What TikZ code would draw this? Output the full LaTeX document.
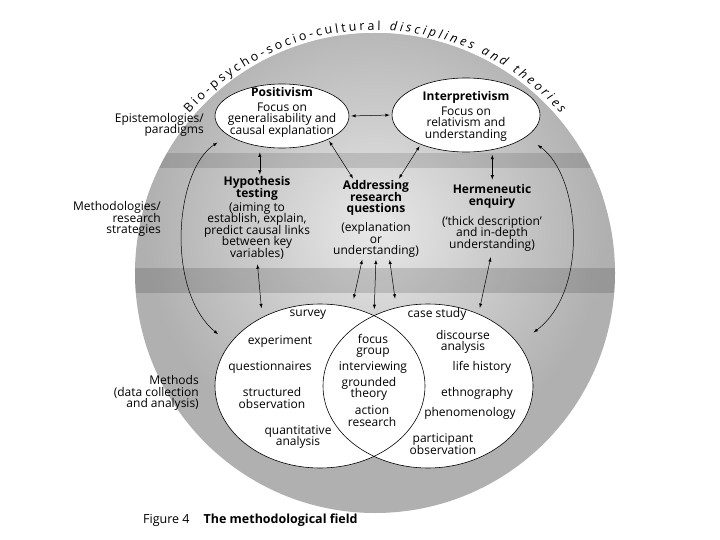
\documentclass[tikz,border=0pt]{standalone}
\usepackage{fontspec}
\setmainfont{Open Sans}
\usetikzlibrary{shapes.geometric,decorations.text}
\setlength{\lineskiplimit}{-8pt}

\begin{document}
\begin{tikzpicture}[x=1pt,y=-1pt,line cap=round,>=latex,
  every node/.style={inner sep=0pt},
  txt/.style={align=center,font=\fontsize{12}{11.5}\selectfont},
  side/.style={align=right,anchor=east,font=\fontsize{12}{11.5}\selectfont},
  paraell/.style={ellipse,draw,fill=white,line width=0.6pt},
  methell/.style={ellipse,draw,line width=0.6pt,minimum width=210,minimum height=164},
  link/.style={<->,line width=0.5pt,shorten <=2pt,shorten >=2pt}]
  \useasboundingbox (0,0) rectangle (720,540);
  \fill[white] (0,0) rectangle (720,540);

  \fill[gray!62] (375,273) circle [radius=240];
  \begin{scope}
    \clip (375,273) circle [radius=240];
    \shade[inner color=gray!18,outer color=gray!62] (375,230) circle [radius=230];
    \fill[black,opacity=0.12] (100,153) rectangle (650,168);
    \fill[black,opacity=0.14] (100,268) rectangle (650,293);
  \end{scope}
  \path[decorate,decoration={text along path,text align={fit to path},
      text={|\fontsize{12.5}{12.5}\selectfont|Bio-psycho-socio-cultural |\fontsize{12.5}{12.5}\selectfont\itshape|disciplines and theories}}]
    (375,278) ++(-138.5:248) arc [start angle=-138.5,end angle=-41.5,radius=248];

  \node[paraell,minimum width=134,minimum height=64] (pos) at (282,116) {};
  \node[paraell,minimum width=148,minimum height=74] (int) at (466,115) {};
  \fill[white] (320,386) ellipse [x radius=105,y radius=82];
  \fill[white] (428,386) ellipse [x radius=105,y radius=82];
  \node[methell] (quan) at (320,386) {};
  \node[methell] (qual) at (428,386) {};
  \coordinate (meet) at (374,317);

  \node[txt] (posT) at (282,112) {\textbf{Positivism}\\[3.5pt]Focus on\\generalisability and\\causal explanation};
  \node[txt] (intT) at (466,116) {\textbf{Interpretivism}\\[3.5pt]Focus on\\relativism and\\understanding};
  \node[txt] (hypT) at (257,218) {\textbf{Hypothesis}\\\textbf{testing}\\[2.5pt](aiming to\\establish, explain,\\predict causal links\\between key\\variables)};
  \node[txt] (addT) at (376,198) {\textbf{Addressing}\\\textbf{research}\\\textbf{questions}};
  \node[txt] (addS) at (376,240) {(explanation\\or\\understanding)};
  \node[txt] (hermT) at (492,218) {\textbf{Hermeneutic}\\\textbf{enquiry}\\[8.5pt](‘thick description’\\and in-depth\\understanding)};

  \node[side] (epi) at (204,125) {Epistemologies/\\paradigms};
  \node[side] (strat) at (161,219) {Methodologies/\\research\\strategies};
  \node[side] (meth) at (199,393) {Methods\\(data collection\\and analysis)};

  \foreach \x/\y/\nm/\lab in {308/315/surv/survey, 280/342/expe/experiment,
      270/368/ques/questionnaires, 272/398/stru/{structured\\observation},
      298/437/quaa/{quantitative\\analysis}, 373/346/focu/{focus\\group},
      373/368/intv/interviewing, 369/389/grou/{grounded\\theory},
      372/416/acti/{action\\research}, 437/314/case/case study,
      463/342/disc/{discourse\\analysis}, 482/367/life/life history,
      477/393/ethn/ethnography, 470/413/phen/phenomenology,
      443/444/part/{participant\\observation}}
    \node[txt] (\nm) at (\x,\y) {\lab};

  \draw[link] (pos.east) -- (int.west);
  \draw[link,shorten <=6pt] (pos.234) -- (pos.234 |- hypT.north);
  \draw[link,shorten <=5pt,shorten >=5pt] (int.307) -- (int.307 |- hermT.north);
  \draw[link] (pos.-27) -- (addT.141);
  \draw[link] (int.213) -- (addT.39);
  \draw[link,shorten >=9pt] (addS.233) -- (quan.68);
  \draw[link,shorten >=8pt] (addS.south) -- (meet);
  \draw[link,shorten >=9pt] (addS.307) -- (qual.112);
  \draw[link,shorten <=5pt,shorten >=9pt] (hypT.south) -- (quan.130);
  \draw[link,shorten <=6pt,shorten >=6pt] (hermT.south) -- (qual.55);
  \draw[link,shorten <=13pt,shorten >=15pt] (pos.200) .. controls (175,170) and (165,290) .. (quan.155);
  \draw[link,shorten <=14pt,shorten >=19pt] (int.-20) .. controls (580,175) and (590,290) .. (qual.25);

  \node[anchor=base west,font=\fontsize{12.5}{14}\selectfont] (cap) at (143,523)
    {Figure 4\hspace{14pt}\textbf{The methodological field}};
\end{tikzpicture}
\end{document}
